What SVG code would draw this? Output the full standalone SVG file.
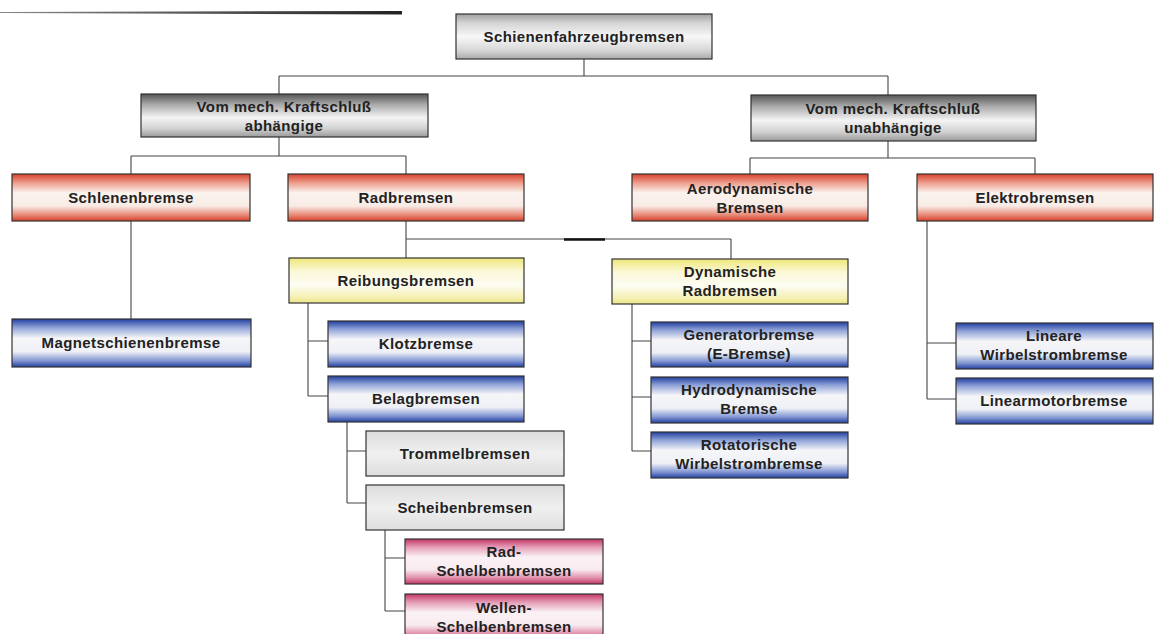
<svg xmlns="http://www.w3.org/2000/svg" width="1155" height="634" viewBox="0 0 1155 634">
<defs>
<linearGradient id="gLight" x1="0" y1="0" x2="0" y2="1">
<stop offset="0" stop-color="#a0a0a0"/><stop offset="0.2" stop-color="#d4d4d4"/><stop offset="0.5" stop-color="#f7f7f7"/><stop offset="0.8" stop-color="#d8d8d8"/><stop offset="1" stop-color="#aaaaaa"/>
</linearGradient>
<linearGradient id="gDark" x1="0" y1="0" x2="0" y2="1">
<stop offset="0" stop-color="#555"/><stop offset="0.25" stop-color="#ababab"/><stop offset="0.55" stop-color="#f4f4f4"/><stop offset="0.8" stop-color="#d2d2d2"/><stop offset="1" stop-color="#9a9a9a"/>
</linearGradient>
<linearGradient id="gRed" x1="0" y1="0" x2="0" y2="1">
<stop offset="0" stop-color="#d8412b"/><stop offset="0.18" stop-color="#ec9a88"/><stop offset="0.4" stop-color="#fbf3ee"/><stop offset="0.68" stop-color="#f8ebe5"/><stop offset="0.87" stop-color="#e88b78"/><stop offset="1" stop-color="#d4402a"/>
</linearGradient>
<linearGradient id="gBlue" x1="0" y1="0" x2="0" y2="1">
<stop offset="0" stop-color="#213f9f"/><stop offset="0.18" stop-color="#90a3d8"/><stop offset="0.4" stop-color="#f6f6f8"/><stop offset="0.68" stop-color="#eef0f6"/><stop offset="0.87" stop-color="#8196d2"/><stop offset="1" stop-color="#233fa0"/>
</linearGradient>
<linearGradient id="gYellow" x1="0" y1="0" x2="0" y2="1">
<stop offset="0" stop-color="#efe77a"/><stop offset="0.3" stop-color="#fbf8d8"/><stop offset="0.6" stop-color="#fdfcf2"/><stop offset="0.85" stop-color="#f6f1b8"/><stop offset="1" stop-color="#ede58a"/>
</linearGradient>
<linearGradient id="gPale" x1="0" y1="0" x2="0" y2="1">
<stop offset="0" stop-color="#dcdcdc"/><stop offset="0.5" stop-color="#f0f0f0"/><stop offset="1" stop-color="#dedede"/>
</linearGradient>
<linearGradient id="gPink" x1="0" y1="0" x2="0" y2="1">
<stop offset="0" stop-color="#c23465"/><stop offset="0.18" stop-color="#e49db6"/><stop offset="0.4" stop-color="#fbf2f5"/><stop offset="0.68" stop-color="#f8eaef"/><stop offset="0.87" stop-color="#df8ba8"/><stop offset="1" stop-color="#c23465"/>
</linearGradient>
<linearGradient id="gTopLine" x1="0" y1="0" x2="1" y2="0">
<stop offset="0" stop-color="#888"/><stop offset="1" stop-color="#222"/>
</linearGradient>
<style>
.box{stroke:#333;stroke-width:1.2}
.light{fill:url(#gLight)}
.dark{fill:url(#gDark)}
.red{fill:url(#gRed)}
.blue{fill:url(#gBlue)}
.yellow{fill:url(#gYellow)}
.pale{fill:url(#gPale)}
.pink{fill:url(#gPink)}
text{font-family:"Liberation Sans",Arial,sans-serif;font-weight:bold;font-size:15px;letter-spacing:0.4px;fill:#222;text-anchor:middle}
.conn{fill:none;stroke:#444;stroke-width:1.1}
</style>
</defs>
<rect width="1155" height="634" fill="#fff"/>
<path d="M0 12 L402 11 L402 14.5 L0 13 Z" fill="url(#gTopLine)"/>

<g id="connectors">
<path class="conn" d="M584 59 V76 M279 76 H888 M279 76 V94 M888 76 V95"/>
<path class="conn" d="M279 137 V156 M131 156 H406 M131 156 V174 M406 156 V174"/>
<path class="conn" d="M888 141 V158 M750 158 H1035 M750 158 V174 M1035 158 V174"/>
<path class="conn" d="M131 221 V319"/>
<path class="conn" d="M406 221 V239 M406 239 H731 M406 239 V258 M731 239 V259"/>
<path d="M564 239.5 H605" stroke="#111" stroke-width="2.5"/>
<path class="conn" d="M308 303 V396 M308 341 H328 M308 396 H328"/>
<path class="conn" d="M347 422 V503 M347 451 H366 M347 503 H366"/>
<path class="conn" d="M385 530 V611 M385 558 H405 M385 611 H405"/>
<path class="conn" d="M632 304 V451 M632 341 H651 M632 397 H651 M632 451 H651"/>
<path class="conn" d="M927 221 V399 M927 343 H956 M927 399 H956"/>
</g>

<g id="n-root"><rect class="box light" x="456" y="14" width="256" height="45"/><text x="584" y="42">Schienenfahrzeugbremsen</text></g>
<g id="n-abh"><rect class="box dark" x="141" y="94" width="287" height="43"/><text x="284" y="112">Vom mech. Kraftschluß</text><text x="284" y="131">abhängige</text></g>
<g id="n-unabh"><rect class="box dark" x="751" y="95" width="285" height="46"/><text x="893" y="114">Vom mech. Kraftschluß</text><text x="893" y="133">unabhängige</text></g>
<g id="n-schienen"><rect class="box red" x="12" y="174" width="238" height="47"/><text x="131" y="203">Schlenenbremse</text></g>
<g id="n-rad"><rect class="box red" x="288" y="174" width="236" height="47"/><text x="406" y="203">Radbremsen</text></g>
<g id="n-aero"><rect class="box red" x="632" y="174" width="236" height="47"/><text x="750" y="194">Aerodynamische</text><text x="750" y="213">Bremsen</text></g>
<g id="n-elektro"><rect class="box red" x="917" y="174" width="236" height="47"/><text x="1035" y="203">Elektrobremsen</text></g>
<g id="n-magnet"><rect class="box blue" x="12" y="319" width="239" height="48"/><text x="131" y="348">Magnetschienenbremse</text></g>
<g id="n-reib"><rect class="box yellow" x="289" y="258" width="235" height="45"/><text x="406" y="286">Reibungsbremsen</text></g>
<g id="n-dyn"><rect class="box yellow" x="612" y="259" width="236" height="45"/><text x="730" y="277">Dynamische</text><text x="730" y="296">Radbremsen</text></g>
<g id="n-klotz"><rect class="box blue" x="328" y="321" width="196" height="46"/><text x="426" y="349">Klotzbremse</text></g>
<g id="n-belag"><rect class="box blue" x="328" y="376" width="196" height="46"/><text x="426" y="404">Belagbremsen</text></g>
<g id="n-trommel"><rect class="box pale" x="366" y="431" width="198" height="45"/><text x="465" y="459">Trommelbremsen</text></g>
<g id="n-scheiben"><rect class="box pale" x="366" y="485" width="198" height="45"/><text x="465" y="513">Scheibenbremsen</text></g>
<g id="n-radscheiben"><rect class="box pink" x="405" y="539" width="198" height="45"/><text x="504" y="557">Rad-</text><text x="504" y="576">Schelbenbremsen</text></g>
<g id="n-wellen"><rect class="box pink" x="405" y="594" width="198" height="46"/><text x="504" y="613">Wellen-</text><text x="504" y="632">Schelbenbremsen</text></g>
<g id="n-gen"><rect class="box blue" x="651" y="322" width="197" height="45"/><text x="749" y="340">Generatorbremse</text><text x="749" y="359">(E-Bremse)</text></g>
<g id="n-hydro"><rect class="box blue" x="651" y="377" width="197" height="46"/><text x="749" y="395">Hydrodynamische</text><text x="749" y="414">Bremse</text></g>
<g id="n-rot"><rect class="box blue" x="651" y="432" width="197" height="46"/><text x="749" y="450">Rotatorische</text><text x="749" y="469">Wirbelstrombremse</text></g>
<g id="n-lin"><rect class="box blue" x="956" y="323" width="197" height="46"/><text x="1054" y="341">Lineare</text><text x="1054" y="360">Wirbelstrombremse</text></g>
<g id="n-linmot"><rect class="box blue" x="956" y="378" width="197" height="46"/><text x="1054" y="406">Linearmotorbremse</text></g>
</svg>
